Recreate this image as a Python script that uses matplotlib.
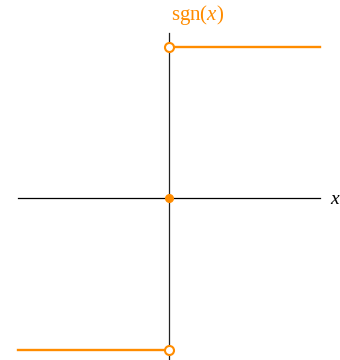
import matplotlib
matplotlib.use("Agg")
import matplotlib.pyplot as plt

plt.rcParams['mathtext.fontset'] = 'custom'
plt.rcParams['mathtext.rm'] = 'Liberation Serif'
plt.rcParams['mathtext.it'] = 'Liberation Serif:italic'

# data
neg_x = [-1.0, 0.0]
neg_y = [-1.0, -1.0]
pos_x = [0.0, 1.0]
pos_y = [1.0, 1.0]
zero_x = [0.0]
zero_y = [0.0]
open_x = [0.0, 0.0]
open_y = [1.0, -1.0]

orange = '#ff8c00'

fig = plt.figure(figsize=(3.4, 3.6), dpi=100)
ax = fig.add_axes([0, 0, 1, 1])
ax.set_xlim(-169/151, 171/151)
ax.set_ylim(-162/151.5, 198/151.5)
ax.axis('off')

# axes
ax.plot([-1, 1], [0, 0], color='black', lw=0.9, zorder=1)
ax.plot([0, 0], [-162/151.5, 165/151.5], color='#222222', lw=0.9, zorder=1)

ax.plot(neg_x, neg_y, color=orange, lw=1.7, zorder=2)
ax.plot(pos_x, pos_y, color=orange, lw=1.7, zorder=2)
ax.plot(zero_x, zero_y, 'o', color=orange, ms=5.5, zorder=3)
ax.plot(open_x, open_y, 'o', mfc='white', mec=orange, mew=1.5, ms=6.5, zorder=3)

ax.text(0.19, 183/151.5, r'$\mathrm{sgn}(x)$', color=orange, fontsize=15,
        ha='center', va='center')
ax.text(1.10, 0, r'$x$', color='black', fontsize=14, ha='center', va='center')

fig.savefig('out.png', dpi=100)
